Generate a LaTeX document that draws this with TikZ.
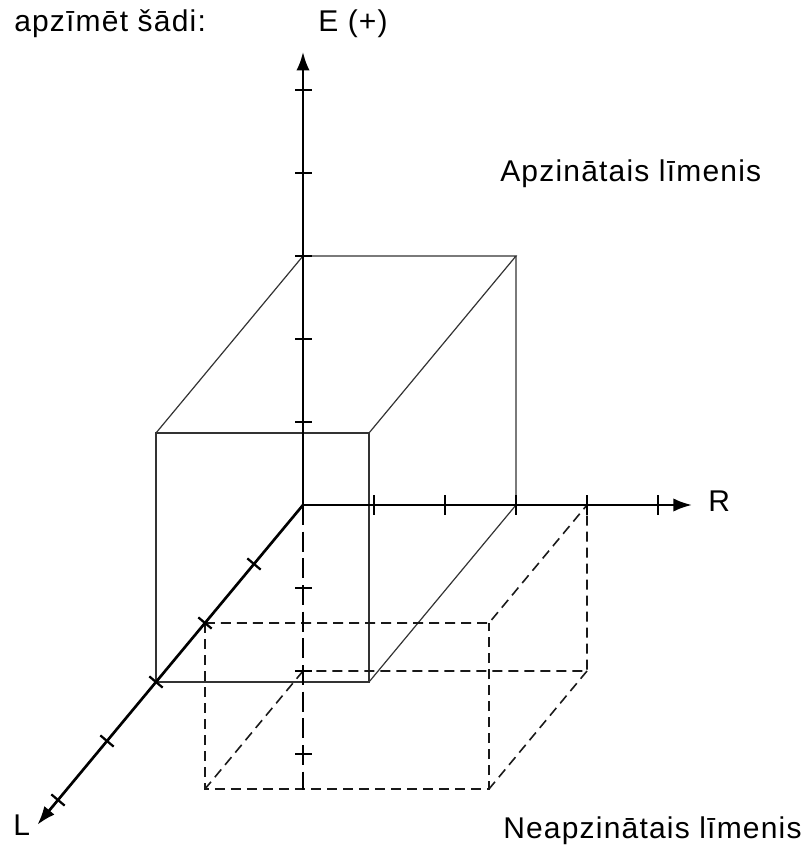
\documentclass[tikz,border=0pt]{standalone}
\usepackage{fontspec}
\setmainfont{Liberation Sans}[LetterSpace=4]
\usetikzlibrary{arrows.meta}

\begin{document}
\begin{tikzpicture}[
    x={(53.25pt,0pt)}, y={(0pt,62.25pt)}, z={(-36.75pt,-44.25pt)},
    font=\fontsize{22.5pt}{27pt}\selectfont,
    axis/.style={line width=2pt, -{Latex[length=14pt,width=10pt]}},
    negaxis/.style={line width=1.8pt, dash pattern=on 15pt off 5pt},
    tick/.style={line width=1.7pt},
    edge/.style={line width=0.9pt, black!80},
    hidden/.style={line width=1.2pt, black!90, dash pattern=on 7.5pt off 4.5pt},
    lbl/.style={inner sep=0pt, anchor=base west},
  ]
  \useasboundingbox (-227.25pt,-258pt) rectangle (373.5pt,378.75pt);

  % --- upper box (R 0..3, E 0..3, L 0..3) ---
  \draw[edge] (0,0,3) -- (3,0,3) -- (3,3,3) -- (0,3,3) -- cycle;
  \draw[edge] (0,3,3) -- (0,3,0) -- (3,3,0) -- (3,3,3);
  \draw[edge] (3,3,0) -- (3,0,0) -- (3,0,3);

  % --- lower box (R 0..4, E -2..0, L 0..2), dashed ---
  \draw[hidden] (0,0,2) -- (4,0,2) -- (4,0,0) -- (4,-2,0) -- (0,-2,0);
  \draw[hidden] (0,0,2) -- (0,-2,2) -- (4,-2,2) -- (4,0,2);
  \draw[hidden] (0,-2,0) -- (0,-2,2);
  \draw[hidden] (4,-2,0) -- (4,-2,2);

  % --- axes ---
  \coordinate (O) at (0,0,0);
  \coordinate (Etip) at (0,5.46,0);
  \coordinate (Rtip) at (5.48,0,0);
  \coordinate (Ltip) at (0,0,5.42);
  \coordinate (Eend) at (0,-3.43,0);
  \draw[negaxis] (O) -- (Eend);
  \draw[axis] (O) -- (Etip);
  \draw[axis] (O) -- (Rtip);
  \draw[axis] (O) -- (Ltip);

  % --- ticks ---
  \foreach \e in {1,...,5,-1,-2,-3}
    \draw[tick] (0,\e,0) ++(-6pt,0pt) -- ++(13pt,0pt);
  \foreach \r in {1,...,5}
    \draw[tick] (\r,0,0) ++(0pt,-7.5pt) -- ++(0pt,15pt);
  \foreach \l in {1,...,5}
    \draw[tick] (0,0,\l) ++(-5pt,4.2pt) -- ++(10pt,-8.4pt);

  % --- labels ---
  \node[lbl] (intro) at (-216.75pt,354.75pt) {apzīmēt šādi:};
  \node[lbl] (Elbl)  at (11.25pt,354.75pt) {E (+)};
  \node[lbl] (Rlbl)  at (303.75pt,-5.25pt) {R};
  \node[lbl] (Llbl)  at (-217.5pt,-247.5pt) {L};
  \node[lbl] (upper) at (147.75pt,242.25pt) {Apzinātais līmenis};
  \node[lbl] (lower) at (150pt,-249.75pt) {Neapzinātais līmenis};
\end{tikzpicture}
\end{document}
